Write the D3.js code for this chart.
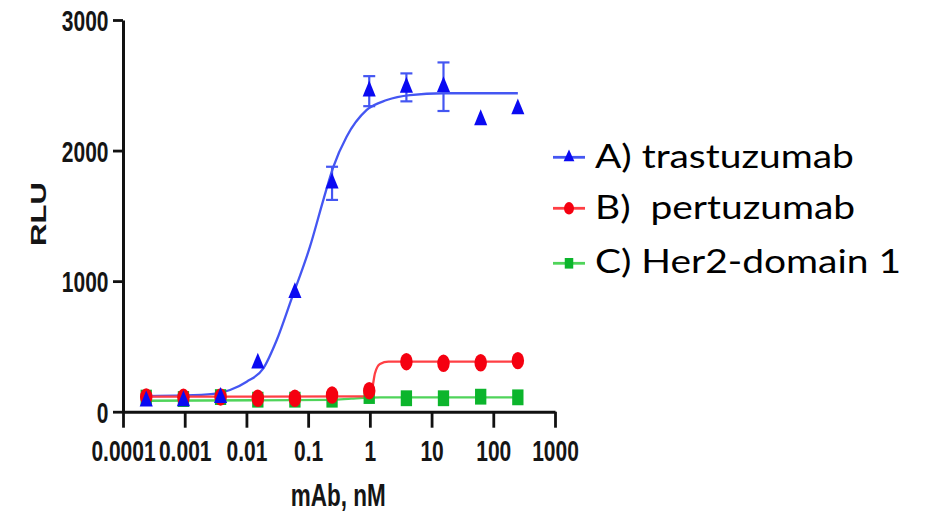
<!DOCTYPE html>
<html>
<head>
<meta charset="utf-8">
<script src="https://cdn.jsdelivr.net/npm/d3@7"></script>
<style>
  html, body { margin: 0; padding: 0; background: #fff; }
  svg { display: block; }
</style>
</head>
<body>
<svg id="chart" width="925" height="512"></svg>
<script>
// mAb concentrations (nM), 4-fold dilution series
const concentrations = [0.000238, 0.000954, 0.00381, 0.0153, 0.061, 0.244, 0.977, 3.91, 15.6, 62.5, 250];

// mean RLU per concentration
const trastuzumab    = [81, 83, 108, 371, 911, 1749, 2455, 2484, 2489, 2235, 2318];
const trastuzumabErr = [0, 0, 0, 0, 0, 127, 115, 107, 186, 0, 0];
const pertuzumab     = [113, 110, 113, 103, 103, 128, 161, 383, 371, 375, 391];
const her2Domain1    = [108, 97, 112, 92, 92, 92, 120, 103, 103, 115, 110];

// fitted dose-response curves, sampled as nM / RLU
const trastuzumabFitX = [0.000236, 0.00095, 0.00291, 0.00542, 0.0101, 0.0188, 0.031, 0.0542, 0.107, 0.176, 0.256, 0.42, 0.89, 1.88, 4.48, 15.5, 250];
const trastuzumabFitY = [120, 124, 136, 166, 230, 332, 549, 868, 1264, 1621, 1876, 2106, 2311, 2387, 2425, 2439, 2439];
const pertuzumabFitX  = [0.000236, 0.785, 1.07, 1.21, 1.46, 2.0, 250];
const pertuzumabFitY  = [115, 118, 166, 294, 365, 383, 383];
const her2Domain1FitX = [0.000236, 0.244, 0.5, 1.5, 250];
const her2Domain1FitY = [84, 90, 100, 110, 110];

// axis ticks
const xTicks = [0.0001, 0.001, 0.01, 0.1, 1, 10, 100, 1000];
const xTickLabels = ["0.0001", "0.001", "0.01", "0.1", "1", "10", "100", "1000"];
const yTicks = [0, 1000, 2000, 3000];
const yTickLabels = ["0", "1000", "2000", "3000"];

const xTitle = "mAb, nM";
const yTitle = "RLU";
const legendLabels = ["A) trastuzumab", "B)  pertuzumab", "C) Her2-domain 1"];

// ---------------------------------------------------------------------------
const svg = d3.select("#chart");
const STRETCH = 1.38;      // tall, narrow lettering of the plot panel
const MARK_STRETCH = 1.4;  // markers are drawn slightly taller than wide
const axisFont = "'Liberation Sans', Arial, sans-serif";

const x = d3.scaleLog().domain([1e-4, 1e3]).range([123, 555]);
const y = d3.scaleLinear().domain([0, 3000]).range([411.7, 20]);

const blue  = { mark: "#0a0af2", line: "#4456f2" };
const red   = { mark: "#f50010", line: "#ff3f44" };
const green = { mark: "#0cb52c", line: "#4fd45a" };

// axes
const gx = svg.append("g")
  .attr("transform", `translate(0,${y(0)})`)
  .call(d3.axisBottom(x).tickValues(xTicks)
    .tickFormat((d, i) => xTickLabels[i]).tickSize(16).tickSizeOuter(0));
const gy = svg.append("g")
  .attr("transform", `translate(${x(1e-4)},0)`)
  .call(d3.axisLeft(y).tickValues(yTicks)
    .tickFormat((d, i) => yTickLabels[i]).tickSize(10).tickSizeOuter(0));

[gx, gy].forEach(g => {
  g.select(".domain").attr("stroke", "#111").attr("stroke-width", 3);
  g.selectAll(".tick line").attr("stroke", "#111").attr("stroke-width", 2.8);
  g.selectAll(".tick text")
    .attr("fill", "#151515")
    .style("font-family", axisFont)
    .style("font-weight", "bold")
    .style("font-size", "21px")
    .attr("dy", null);
});
gx.selectAll(".tick text").attr("y", null)
  .attr("transform", `translate(0,49.3) scale(1,${STRETCH})`);
gy.selectAll(".tick text").attr("x", null)
  .attr("transform", `translate(-14.5,10.5) scale(1,${STRETCH})`);

// axis titles
svg.append("text")
  .attr("transform", `translate(338.3,505.5) scale(1,${STRETCH})`)
  .attr("text-anchor", "middle")
  .style("font-family", axisFont).style("font-weight", "bold").style("font-size", "22.5px")
  .attr("fill", "#151515")
  .text(xTitle);
svg.append("text")
  .attr("transform", `translate(45.5,214) rotate(-90) scale(${STRETCH},1)`)
  .attr("text-anchor", "middle")
  .style("font-family", axisFont).style("font-weight", "bold").style("font-size", "22.5px")
  .attr("fill", "#151515")
  .text(yTitle);

// fitted curves
const line = d3.line().x(d => x(d[0])).y(d => y(d[1])).curve(d3.curveMonotoneX);
const curves = [
  { xs: her2Domain1FitX, ys: her2Domain1FitY, c: green },
  { xs: trastuzumabFitX, ys: trastuzumabFitY, c: blue },
  { xs: pertuzumabFitX,  ys: pertuzumabFitY,  c: red }
];
curves.forEach(cv => {
  svg.append("path")
    .attr("d", line(cv.xs.map((v, i) => [v, cv.ys[i]])))
    .attr("fill", "none")
    .attr("stroke", cv.c.line)
    .attr("stroke-width", 2.3);
});

// error bars (trastuzumab)
const errG = svg.append("g").attr("stroke", blue.line).attr("stroke-width", 2.2);
concentrations.forEach((cx, i) => {
  const e = trastuzumabErr[i];
  if (!e) return;
  const px = x(cx), y1 = y(trastuzumab[i] + e), y2 = y(trastuzumab[i] - e);
  errG.append("line").attr("x1", px).attr("x2", px).attr("y1", y1).attr("y2", y2);
  errG.append("line").attr("x1", px - 6).attr("x2", px + 6).attr("y1", y1).attr("y2", y1);
  errG.append("line").attr("x1", px - 6).attr("x2", px + 6).attr("y1", y2).attr("y2", y2);
});

// markers
const markerSets = [
  { vals: her2Domain1, type: d3.symbolSquare,   size: 128, c: green },
  { vals: pertuzumab,  type: d3.symbolCircle,   size: 122, c: red },
  { vals: trastuzumab, type: d3.symbolTriangle, size: 74,  c: blue }
];
markerSets.forEach(ms => {
  svg.append("g").selectAll("path")
    .data(ms.vals)
    .join("path")
    .attr("d", d3.symbol().type(ms.type).size(ms.size))
    .attr("transform", (d, i) => `translate(${x(concentrations[i])},${y(d)}) scale(1,${MARK_STRETCH})`)
    .attr("fill", ms.c.mark);
});

// legend
const legendRows = [
  { label: legendLabels[0], type: d3.symbolTriangle, size: 50, c: blue,  cy: 157.3, base: 168 },
  { label: legendLabels[1], type: d3.symbolCircle,   size: 78, c: red,   cy: 208.3, base: 219 },
  { label: legendLabels[2], type: d3.symbolSquare,   size: 72, c: green, cy: 263.3, base: 273 }
];
const lg = svg.append("g");
legendRows.forEach(r => {
  lg.append("line")
    .attr("x1", 553).attr("x2", 585).attr("y1", r.cy).attr("y2", r.cy)
    .attr("stroke", r.c.line).attr("stroke-width", 2.8);
  lg.append("path")
    .attr("d", d3.symbol().type(r.type).size(r.size))
    .attr("transform", `translate(569,${r.cy}) scale(1,1.25)`)
    .attr("fill", r.c.mark);
  lg.append("text")
    .attr("transform", `translate(595,${r.base}) scale(1.18,1)`)
    .style("font-family", "Lato, 'Open Sans', sans-serif")
    .style("font-size", "33px")
    .style("white-space", "pre")
    .attr("fill", "#000")
    .text(r.label);
});
</script>
</body>
</html>
